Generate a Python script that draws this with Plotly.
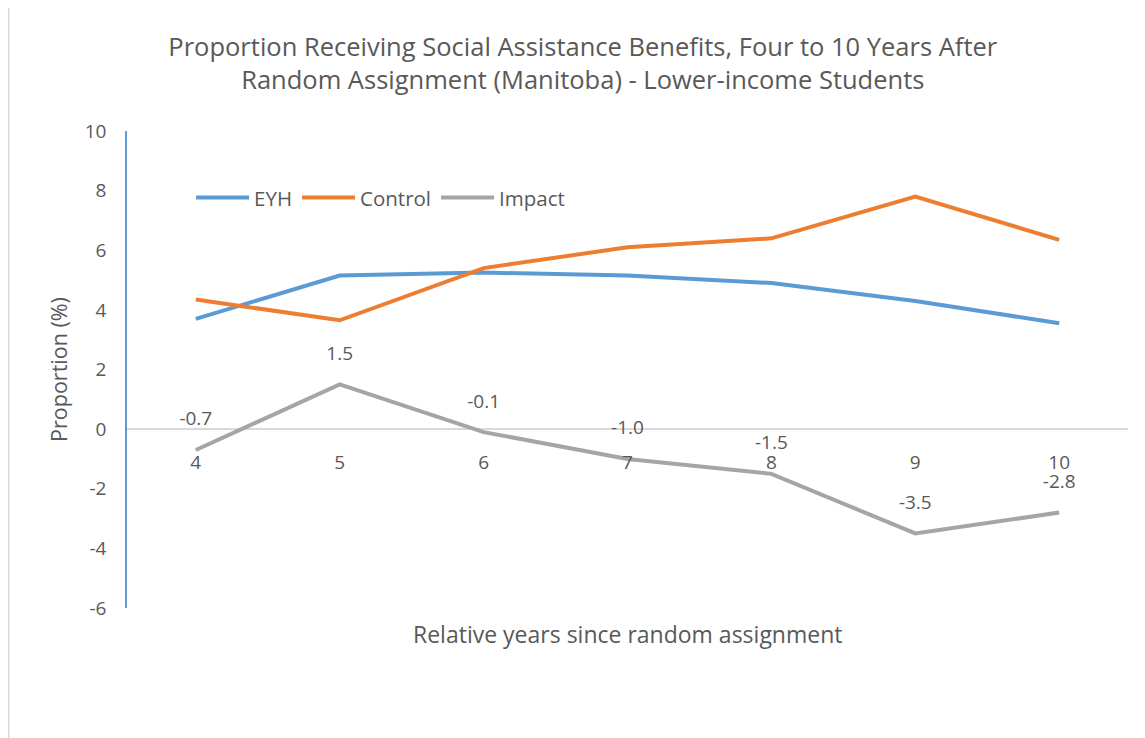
import plotly.graph_objects as go

years = ["4", "5", "6", "7", "8", "9", "10"]
eyh = [3.7, 5.15, 5.25, 5.15, 4.9, 4.3, 3.55]
control = [4.35, 3.65, 5.4, 6.1, 6.4, 7.8, 6.35]
impact = [-0.7, 1.5, -0.1, -1.0, -1.5, -3.5, -2.8]
impact_labels = [f"{v:.1f}" for v in impact]
ytick_vals = [-6, -4, -2, 0, 2, 4, 6, 8, 10]
ytick_text = ["-6", "-4", "-2", "0", "2", "4", "6", "8", "10"]

FONT = "Open Sans"
GREY = "#595959"

fig = go.Figure()
fig.add_trace(go.Scatter(x=years, y=eyh, name="EYH", mode="lines",
                         line=dict(color="#5B9BD5", width=4)))
fig.add_trace(go.Scatter(x=years, y=control, name="Control", mode="lines",
                         line=dict(color="#ED7D31", width=4)))
fig.add_trace(go.Scatter(x=years, y=impact, name="Impact", mode="lines+markers+text",
                         line=dict(color="#A5A5A5", width=4),
                         marker=dict(size=30, color="rgba(0,0,0,0)"),
                         text=impact_labels, textposition="top center",
                         textfont=dict(size=19, color=GREY, family=FONT)))

fig.update_layout(
    width=1145, height=738,
    paper_bgcolor="white", plot_bgcolor="white",
    margin=dict(l=119, r=25, t=123, b=138, autoexpand=False),
    font=dict(family=FONT, color=GREY, size=19),
    title=dict(text="Proportion Receiving Social Assistance Benefits, Four to 10 Years After<br>Random Assignment (Manitoba) - Lower-income Students",
               x=0.502, xanchor="center", y=0.9345, yanchor="middle",
               font=dict(size=25.5, color=GREY, family=FONT)),
    legend=dict(orientation="h", x=0.064, xanchor="left", y=0.86, yanchor="middle",
                font=dict(size=20.5, color=GREY, family=FONT), bgcolor="rgba(0,0,0,0)",
                itemclick=False, tracegroupgap=0, itemwidth=53),
    showlegend=True,
)
fig.update_yaxes(range=[-6, 10], tickmode="array", tickvals=ytick_vals, ticktext=ytick_text,
                 showgrid=False, automargin=False,
                 showline=True, linecolor="#5B9BD5", linewidth=1.5,
                 zeroline=True, zerolinecolor="#D9D9D9", zerolinewidth=1.5,
                 ticks="outside", ticklen=15, tickcolor="rgba(0,0,0,0)",
                 tickfont=dict(size=19, color=GREY),
                 title=dict(text="Proportion (%)", font=dict(size=21.5, color=GREY), standoff=11))
fig.update_xaxes(type="category", showgrid=False, showline=False, zeroline=False,
                 automargin=False,
                 anchor="free", position=(0 + 6) / 16,
                 ticks="outside", ticklen=16, tickcolor="rgba(0,0,0,0)",
                 tickfont=dict(size=19, color=GREY))
fig.add_annotation(text="Relative years since random assignment", xref="paper", yref="paper",
                   x=0.5, y=-0.055, xanchor="center", yanchor="middle", showarrow=False,
                   font=dict(size=23, color=GREY, family=FONT))
fig.add_shape(type="line", xref="paper", yref="paper", x0=-0.1184, x1=-0.1184, y0=-0.5, y1=1.5,
              line=dict(color="#D9D9D9", width=2))

fig.write_html("out.html")
